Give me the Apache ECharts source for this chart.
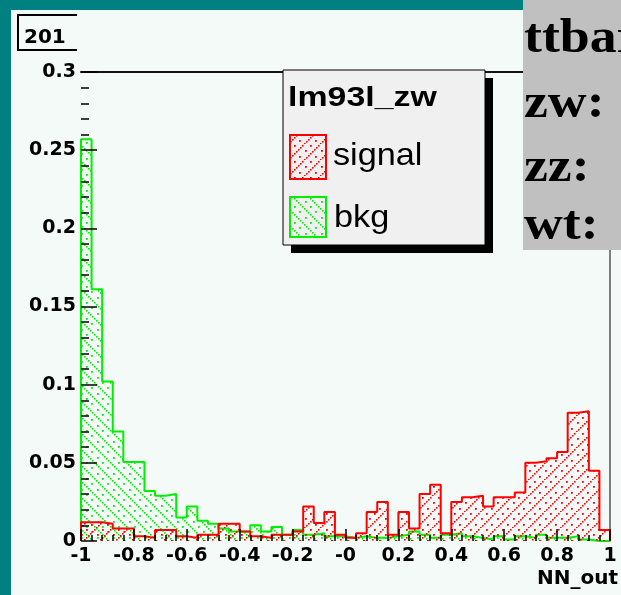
<!DOCTYPE html>
<html>
<head>
<meta charset="utf-8">
<script src="https://cdn.jsdelivr.net/npm/echarts@6/dist/echarts.min.js"></script>
<style>
  html, body { margin: 0; padding: 0; background: #f4faf7; }
  #chart { width: 621px; height: 595px; }
</style>
</head>
<body>
<div id="chart"></div>
<script>
// Histogram binning of the network output
const xRange = [-1, 1];
const binCount = 50;

// Normalised bin contents, one per bin from -1 to 1
const signalValues = [
  0.012, 0.012, 0.011, 0.008, 0.008, 0.003, 0.002, 0.007, 0.007, 0.003,
  0.002, 0.004, 0.004, 0.011, 0.011, 0.006, 0.003, 0.002, 0.004, 0.004,
  0.006, 0.022, 0.0115, 0.0186, 0.004, 0.002, 0.005, 0.0185, 0.025, 0.004,
  0.0185, 0.008, 0.030, 0.036, 0.005, 0.025, 0.028, 0.029, 0.022, 0.028,
  0.028, 0.031, 0.050, 0.051, 0.053, 0.057, 0.082, 0.083, 0.045, 0.007
];
const bkgValues = [
  0.257, 0.161, 0.102, 0.070, 0.0505, 0.0505, 0.032, 0.029, 0.030, 0.015,
  0.022, 0.013, 0.011, 0.008, 0.006, 0.006, 0.010, 0.006, 0.009, 0.004,
  0.007, 0.004, 0.005, 0.003, 0.003, 0.002, 0.003, 0.002, 0.002, 0.003,
  0.004, 0.006, 0.004, 0.002, 0.004, 0.005, 0.003, 0.002, 0.001, 0.003,
  0.001, 0.003, 0.002, 0.004, 0.002, 0.002, 0.003, 0.001, 0.000, 0.000
];

// Axis tick labels as printed on the pad
const xTickLabels = ['-1', '-0.8', '-0.6', '-0.4', '-0.2', '-0', '0.2', '0.4', '0.6', '0.8', '1'];
const yTickLabels = ['0', '0.05', '0.1', '0.15', '0.2', '0.25', '0.3'];

const histTitle = 'lm93l_zw';
const seriesNames = ['signal', 'bkg'];
const xTitle = 'NN_out';
const padLabel = '201';
const sideLines = ['ttbar:', 'zw:', 'zz:', 'wt:'];

const SIGNAL_COLOR = '#ff0000';
const BKG_COLOR = '#00ee00';

// Dotted diagonal hatch tile; dir > 0 gives "/", dir < 0 gives "\"
function hatch(color, dir) {
  const s = 16;
  const c = document.createElement('canvas');
  c.width = s; c.height = s;
  const g = c.getContext('2d');
  g.fillStyle = color;
  for (let i = 0; i < s; i += 2) {
    const y = dir > 0 ? s - 1 - i : i;
    g.fillRect(i, y, 1.6, 1.6);
  }
  for (let i = 1; i < s; i += 5) {
    const y0 = dir > 0 ? s - 1 - i : i;
    g.fillRect(i, (y0 + 8) % s, 1.8, 1.8);
  }
  return c;
}
const signalHatch = hatch(SIGNAL_COLOR, 1);
const bkgHatch = hatch(BKG_COLOR, -1);

// Step outline: bin low edges with contents, closed down to zero at both ends
function stepData(values) {
  const w = (xRange[1] - xRange[0]) / binCount;
  const pts = [[xRange[0], 0]];
  values.forEach((v, i) => pts.push([xRange[0] + i * w, v]));
  pts.push([xRange[1], values[values.length - 1]]);
  pts.push([xRange[1], 0]);
  return pts;
}

const labelFont = { fontFamily: 'DejaVu Sans', fontWeight: 'bold', fontSize: 19, color: '#000' };
const hiddenLine = { show: true, onZero: false, lineStyle: { color: 'rgba(0,0,0,0)', width: 1 } };

const chart = echarts.init(document.getElementById('chart'), null, { renderer: 'canvas' });
chart.setOption({
  animation: false,
  backgroundColor: '#f4faf7',
  grid: { left: 81, top: 72, right: 3, bottom: 54, containLabel: false },
  xAxis: [{
    type: 'value', min: xRange[0], max: xRange[1], interval: 0.2, position: 'bottom',
    zlevel: 1, z: 10,
    name: xTitle, nameLocation: 'end', nameGap: 8,
    nameTextStyle: { fontFamily: 'DejaVu Sans', fontWeight: 'bold', fontSize: 20, color: '#000',
                     align: 'right', verticalAlign: 'top', padding: [28, 0, 0, 0] },
    axisLine: hiddenLine,
    axisTick: { show: true, inside: true, length: 12, lineStyle: { color: '#000', width: 1.5 } },
    minorTick: { show: true, splitNumber: 5, length: 6, lineStyle: { color: '#000', width: 1.5 } },
    splitLine: { show: false },
    axisLabel: Object.assign({ margin: 6, showMinLabel: true, showMaxLabel: true,
      formatter: v => xTickLabels[Math.round((v - xRange[0]) / 0.2)] }, labelFont)
  }, {
    type: 'value', min: xRange[0], max: xRange[1], position: 'top',
    axisLine: { show: true, onZero: false, lineStyle: { color: '#111', width: 2 } },
    axisTick: { show: false }, axisLabel: { show: false }, splitLine: { show: false }
  }],
  yAxis: [{
    type: 'value', min: 0, max: 0.3, interval: 0.05, position: 'left',
    zlevel: 1, z: 10,
    axisLine: hiddenLine,
    axisTick: { show: true, inside: true, length: 16, lineStyle: { color: '#000', width: 1.5 } },
    minorTick: { show: true, splitNumber: 5, length: 8, lineStyle: { color: '#000', width: 1.5 } },
    splitLine: { show: false },
    axisLabel: Object.assign({ margin: 5, formatter: v => yTickLabels[Math.round(v / 0.05)] }, labelFont)
  }, {
    type: 'value', min: 0, max: 0.3, position: 'right',
    axisLine: { show: true, onZero: false, lineStyle: { color: '#555', width: 1.5 } },
    axisTick: { show: false }, axisLabel: { show: false }, splitLine: { show: false }
  }],
  series: [{
    name: seriesNames[1], type: 'line', step: 'end', data: stepData(bkgValues),
    symbol: 'none', lineStyle: { color: BKG_COLOR, width: 2 },
    areaStyle: { color: { image: bkgHatch, repeat: 'repeat' }, opacity: 1 },
    z: 2
  }, {
    name: seriesNames[0], type: 'line', step: 'end', data: stepData(signalValues),
    symbol: 'none', lineStyle: { color: SIGNAL_COLOR, width: 2 },
    areaStyle: { color: { image: signalHatch, repeat: 'repeat' }, opacity: 1 },
    z: 3
  }],
  graphic: [
    // teal page margins
    { type: 'rect', z: 100, shape: { x: 0, y: 0, width: 11, height: 595 }, style: { fill: '#008080' } },
    { type: 'rect', z: 100, shape: { x: 0, y: 0, width: 621, height: 10 }, style: { fill: '#008080' } },
    // pad number box
    { type: 'polyline', z: 100, shape: { points: [[77, 15], [18, 15], [18, 50], [77, 50]] },
      style: { stroke: '#000', lineWidth: 2, fill: null } },
    { type: 'text', z: 100, x: 24, y: 38,
      style: { text: padLabel, font: 'bold 20px "DejaVu Sans"', fill: '#000', verticalAlign: 'middle' } },
    // legend with shadow
    { type: 'rect', z: 100, shape: { x: 291, y: 78, width: 202, height: 175 }, style: { fill: '#000' } },
    { type: 'rect', z: 101, shape: { x: 283, y: 70, width: 202, height: 175 },
      style: { fill: '#f0f0f0', stroke: '#000', lineWidth: 1 } },
    { type: 'text', z: 102, x: 288, y: 98, scaleX: 1.21,
      style: { text: histTitle, font: 'bold 28px "Liberation Sans"', fill: '#000', verticalAlign: 'middle' } },
    { type: 'rect', z: 102, shape: { x: 290, y: 135, width: 36, height: 44 },
      style: { fill: { image: signalHatch, repeat: 'repeat' }, stroke: SIGNAL_COLOR, lineWidth: 2 } },
    { type: 'text', z: 102, x: 333, y: 156, scaleX: 1.07,
      style: { text: seriesNames[0], font: '32px "Liberation Sans"', fill: '#000', verticalAlign: 'middle' } },
    { type: 'rect', z: 102, shape: { x: 290, y: 197, width: 36, height: 40 },
      style: { fill: { image: bkgHatch, repeat: 'repeat' }, stroke: BKG_COLOR, lineWidth: 2 } },
    { type: 'text', z: 102, x: 334, y: 218, scaleX: 1.07,
      style: { text: seriesNames[1], font: '32px "Liberation Sans"', fill: '#000', verticalAlign: 'middle' } },
    // grey side panel
    { type: 'rect', z: 110, shape: { x: 523, y: 0, width: 98, height: 250 }, style: { fill: '#c0c0c0' } }
  ].concat(sideLines.map((t, i) => ({
    type: 'text', z: 111, x: 524, y: [64, 129, 193, 251][i], scaleX: 1.12,
    style: { text: t, font: 'bold 48px "Liberation Serif"', fill: '#000', verticalAlign: 'bottom' }
  })))
});
</script>
</body>
</html>
